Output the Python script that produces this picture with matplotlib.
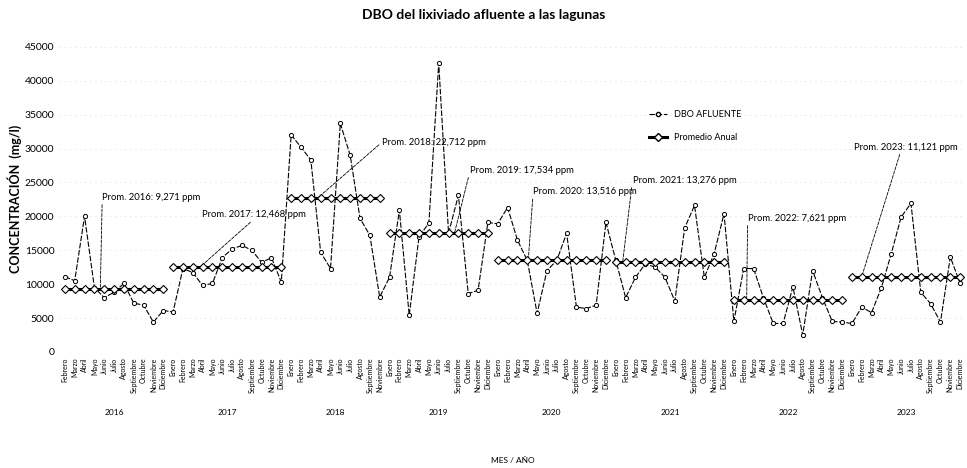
import numpy as np
import matplotlib.pyplot as plt
from matplotlib.lines import Line2D
from matplotlib.transforms import blended_transform_factory

plt.rcParams['font.family'] = ['Lato', 'DejaVu Sans']

# --- data ---
MESES = ['Enero', 'Febrero', 'Marzo', 'Abril', 'Mayo', 'Junio', 'Julio',
         'Agosto', 'Septiembre', 'Octubre', 'Noviembre', 'Diciembre']

years = [2016, 2017, 2018, 2019, 2020, 2021, 2022, 2023]

meses_2016 = MESES[1:]
meses_2017 = MESES
meses_2018 = MESES[:9] + ['Noviembre']
meses_2019 = MESES[:7] + MESES[8:]
meses_2020 = MESES
meses_2021 = MESES
meses_2022 = MESES
meses_2023 = MESES

dbo_2016 = [11100, 10500, 20000, 9500, 8000, 8800, 10100, 7200, 6900, 4400, 6100]
dbo_2017 = [5900, 12300, 11700, 9800, 10100, 13900, 15200, 15700, 15000, 13200, 13900, 10300]
dbo_2018 = [32000, 30200, 28300, 14700, 12300, 33700, 29000, 19700, 17200, 8100]
dbo_2019 = [11000, 20900, 5400, 17000, 19000, 42600, 17500, 23100, 8600, 9100, 19100]
dbo_2020 = [18900, 21300, 16500, 13500, 5700, 12000, 13500, 17500, 6600, 6400, 6900, 19100]
dbo_2021 = [13500, 8000, 11000, 13000, 12500, 11000, 7500, 18300, 21600, 11000, 14500, 20400]
dbo_2022 = [4500, 12300, 12300, 8000, 4200, 4200, 9600, 2500, 12000, 8000, 4500, 4400]
dbo_2023 = [4200, 6600, 5800, 9500, 14500, 19900, 21900, 8800, 7100, 4400, 14000, 10100]

prom_anual = [9271, 12468, 22712, 17534, 13516, 13276, 7621, 11121]

meses_por_anio = [meses_2016, meses_2017, meses_2018, meses_2019,
                  meses_2020, meses_2021, meses_2022, meses_2023]
dbo_por_anio = [dbo_2016, dbo_2017, dbo_2018, dbo_2019,
                dbo_2020, dbo_2021, dbo_2022, dbo_2023]

# label placement (x index, y value) and where the leader line leaves the text
label_pos = [(3.8, 22800), (13.9, 20200), (32.2, 30900), (41.2, 26800),
             (47.6, 23600), (57.7, 25300), (69.4, 19700), (80.2, 30200)]
leader_x = [3.6, 13.7, 25.7, 39.6, 47.1, 56.7, 69.3, 81.0]
leader_rel = [(0, 0.5), (0.5, 0), (0, 0.5), (0, 0.5),
              (0, 0.5), (0, 0.5), (0, 0.5), (0.45, 0)]

# --- build flat series ---
labels = [m for ms in meses_por_anio for m in ms]
values = [v for vs in dbo_por_anio for v in vs]
x = np.arange(len(values))

fig = plt.figure(figsize=(9.67, 4.68), dpi=100)
ax = fig.add_axes([0.062, 0.248, 0.936, 0.652])

ax.plot(x, values, color='black', lw=0.8, linestyle=(0, (5, 1.5)),
        marker='o', ms=3, mfc='white', mec='black', mew=0.7, zorder=3)

start = 0
trans = blended_transform_factory(ax.transData, ax.transAxes)
for yr, vs, avg, pos, lx, rel in zip(years, dbo_por_anio, prom_anual,
                                     label_pos, leader_x, leader_rel):
    xs = np.arange(start, start + len(vs))
    ax.plot(xs, [avg] * len(xs), color='black', lw=2.2, marker='D', ms=4,
            mfc='white', mec='black', mew=0.8, zorder=4)
    ax.annotate(f"Prom. {yr}: {avg:,} ppm", xy=(lx, avg), xytext=pos,
                fontsize=6.8, ha='left', va='center',
                arrowprops=dict(arrowstyle='-', color='black', lw=0.6,
                                linestyle='--', relpos=rel,
                                shrinkA=0, shrinkB=0))
    # year label under the month labels
    ax.text(start + (len(vs) - 1) / 2, -0.197, str(yr), transform=trans,
            ha='center', va='center', fontsize=6)
    start += len(vs)

ax.set_xlim(-0.5, len(values) - 0.5)
ax.set_ylim(0, 45000)
ax.set_yticks(np.arange(0, 45001, 5000))
ax.set_yticklabels([str(v) for v in range(0, 45001, 5000)], fontsize=7.5)
ax.set_xticks(x)
ax.set_xticklabels(labels, rotation=90, fontsize=5)
ax.tick_params(axis='both', length=0, pad=4)
for s in ax.spines.values():
    s.set_visible(False)
ax.grid(axis='y', color='#d0d0d0', lw=0.6, linestyle=(0, (1, 5)))
ax.set_axisbelow(True)

ax.set_ylabel('CONCENTRACIÓN  (mg/l)', fontsize=9, fontweight='bold', labelpad=2)

handles = [Line2D([0], [0], color='black', lw=0.8, linestyle=(0, (5, 1.5)),
                  marker='o', ms=3, mfc='white', mec='black'),
           Line2D([0], [0], color='black', lw=2.2, marker='D', ms=4,
                  mfc='white', mec='black')]
ax.legend(handles, ['DBO AFLUENTE', 'Promedio Anual'], loc='upper left',
          bbox_to_anchor=(0.642, 0.82), frameon=False, fontsize=6.5,
          handlelength=2.0, labelspacing=1.6)

fig.text(0.5, 0.968, 'DBO del lixiviado afluente a las lagunas',
         ha='center', va='center', fontsize=10, fontweight='bold')
fig.text(0.53, 0.008, 'MES / AÑO', ha='center', va='bottom', fontsize=6)

fig.savefig('out.png', dpi=100)
